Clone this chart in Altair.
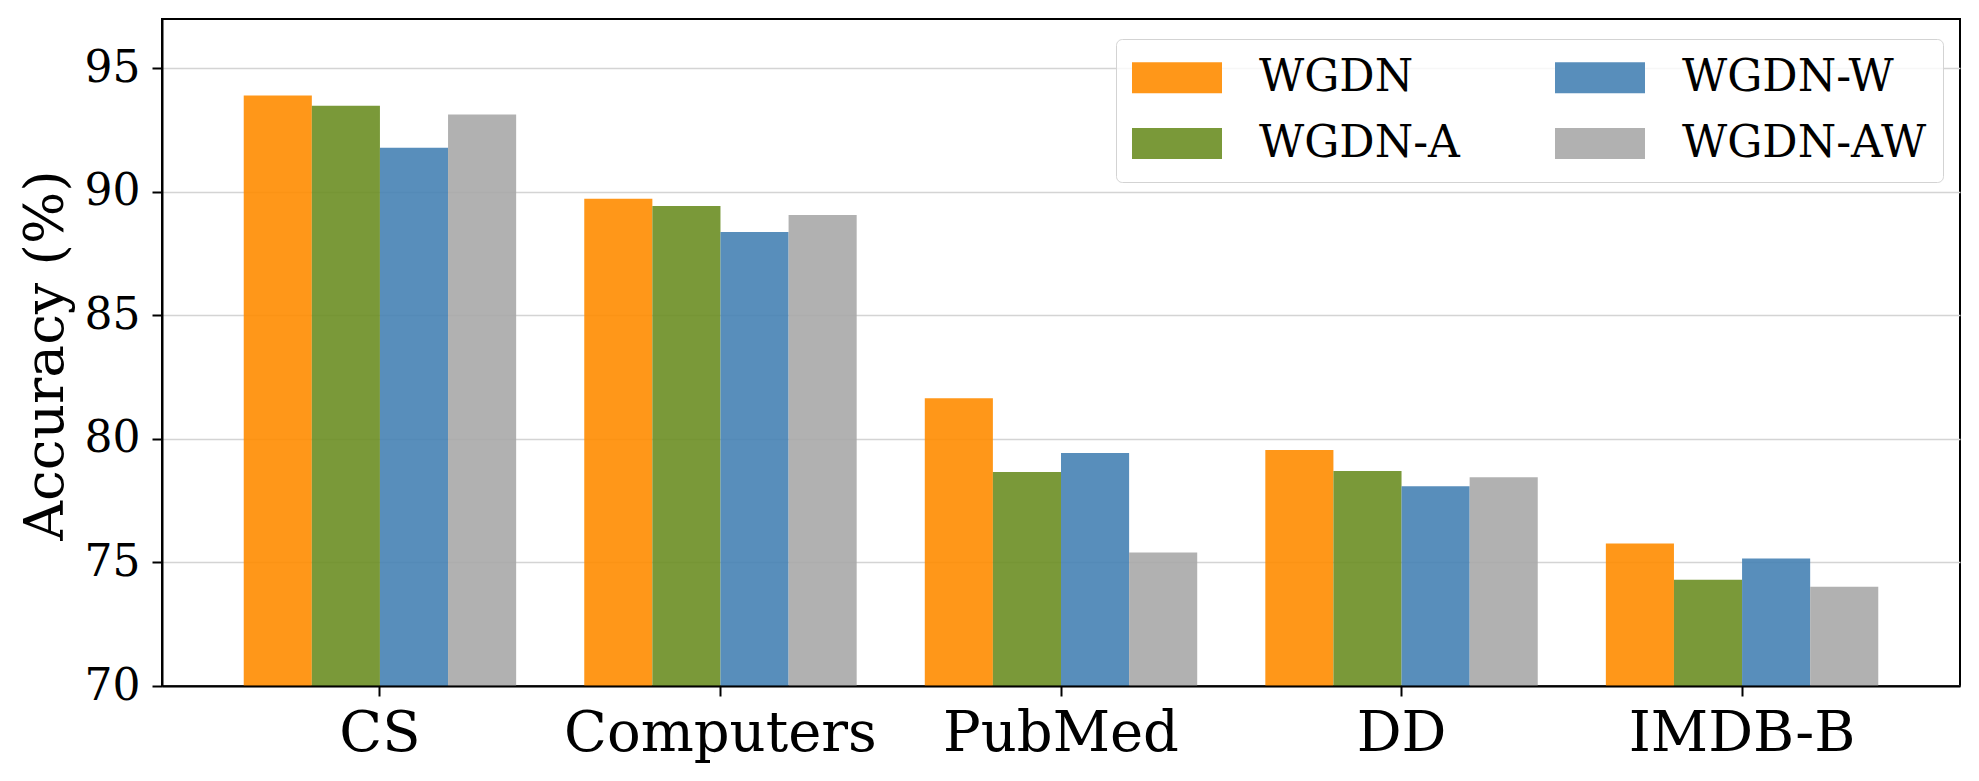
import altair as alt
import pandas as pd

categories = ["CS", "Computers", "PubMed", "DD", "IMDB-B"]
methods = ["WGDN", "WGDN-A", "WGDN-W", "WGDN-AW"]
colors = ["darkorange", "olivedrab", "steelblue", "darkgray"]
wgdn = [93.90, 89.72, 81.65, 79.55, 75.77]
wgdn_a = [93.49, 89.43, 78.66, 78.70, 74.30]
wgdn_w = [91.79, 88.38, 79.43, 78.09, 75.16]
wgdn_aw = [93.13, 89.07, 75.40, 78.45, 74.02]
y_ticks = [70, 75, 80, 85, 90, 95]

series = {"WGDN": wgdn, "WGDN-A": wgdn_a, "WGDN-W": wgdn_w, "WGDN-AW": wgdn_aw}
rows = []
for m in methods:
    for c, v in zip(categories, series[m]):
        rows.append({"dataset": c, "method": m, "acc": v})
df = pd.DataFrame(rows)

FONT = "DejaVu Serif"

chart = alt.Chart(df).mark_bar(opacity=0.9).encode(
    x=alt.X(
        "dataset:N",
        sort=categories,
        scale=alt.Scale(paddingInner=0.2, paddingOuter=0.24),
        axis=alt.Axis(
            title=None,
            labelAngle=0,
            labelFontSize=56,
            labelFont=FONT,
            labelColor="black",
            labelBaseline="alphabetic",
            labelPadding=54,
            labelLimit=1000,
            tickSize=10,
            tickWidth=2,
            tickColor="black",
            domainColor="black",
            domainWidth=2,
            grid=False,
            zindex=1,
        ),
    ),
    xOffset=alt.XOffset(
        "method:N", sort=methods, scale=alt.Scale(paddingInner=0, paddingOuter=0)
    ),
    y=alt.Y(
        "acc:Q",
        scale=alt.Scale(domain=[70, 97], zero=False, nice=False),
        axis=alt.Axis(
            title="Accuracy (%)",
            values=y_ticks,
            labelFontSize=44,
            labelFont=FONT,
            labelColor="black",
            labelPadding=12,
            tickSize=10,
            tickWidth=2,
            tickColor="black",
            domainColor="black",
            domainWidth=2,
            grid=True,
            gridColor="#d4d4d4",
            gridWidth=1.7,
            titleFont=FONT,
            titleFontSize=55,
            titleFontWeight="normal",
            titleColor="black",
            titleAngle=270,
            titleX=-100,
            titleY=336,
            titleAlign="center",
            titleBaseline="alphabetic",
        ),
    ),
    y2=alt.Y2Datum(70),
    color=alt.Color(
        "method:N",
        scale=alt.Scale(domain=methods, range=colors),
        legend=alt.Legend(
            title=None,
            orient="none",
            legendX=954,
            legendY=20,
            columns=2,
            symbolType="M-1,-0.69H3V0.69H-1Z",
            symbolSize=2025,
            symbolStrokeWidth=0,
            symbolOpacity=0.9,
            labelFont=FONT,
            labelFontSize=44,
            labelColor="black",
            labelOffset=82,
            labelLimit=500,
            columnPadding=95,
            rowPadding=21,
            padding=16,
            strokeColor="#d3d3d3",
            fillColor="rgba(255,255,255,0.8)",
            cornerRadius=6,
        ),
    ),
).properties(
    width=1798,
    height=667,
    autosize=alt.AutoSizeParams(type="none"),
    padding={"left": 154, "top": 11, "right": 10, "bottom": 80},
).configure_view(
    stroke="black", strokeWidth=2
)

chart.save("out.html", embed_options={"renderer": "svg", "actions": False})
